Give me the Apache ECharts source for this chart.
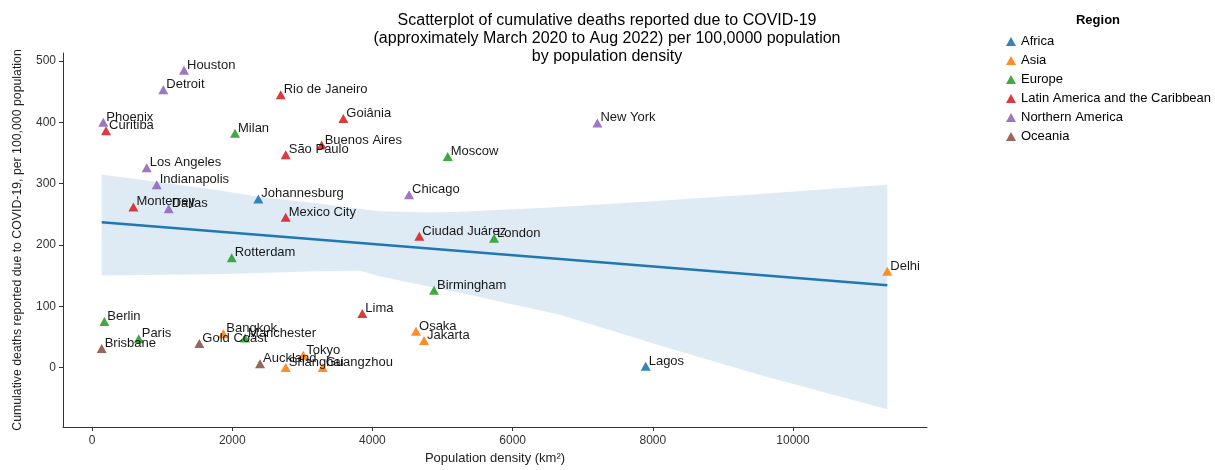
<!DOCTYPE html>
<html>
<head>
<meta charset="utf-8">
<script src="https://cdn.jsdelivr.net/npm/echarts@6/dist/echarts.min.js"></script>
<style>
html,body{margin:0;padding:0;background:#fff;}
#chart{width:1215px;height:470px;}
</style>
</head>
<body>
<div id="chart"></div>
<script>
// ---- data ----
const regions = ['Africa', 'Asia', 'Europe', 'Latin America and the Caribbean', 'Northern America', 'Oceania'];
const regionColors = ['#1f77b4', '#ff7f0e', '#2ca02c', '#d62728', '#9467bd', '#8c564b'];

const cities = ['Houston','Detroit','Rio de Janeiro','Goiânia','Phoenix','Curitiba','Milan','Buenos Aires','São Paulo','Moscow',
  'Los Angeles','Indianapolis','Johannesburg','Chicago','Monterrey','Dallas','Mexico City','Ciudad Juárez','Rotterdam','New York',
  'London','Birmingham','Delhi','Lima','Berlin','Paris','Brisbane','Gold Coast','Bangkok','Manchester',
  'Osaka','Jakarta','Auckland','Shanghai','Tokyo','Guangzhou','Lagos'];
const density = [1312, 1017, 2692, 3585, 161, 200, 2040, 3276, 2763, 5074,
  780, 923, 2373, 4522, 590, 1094, 2763, 4669, 1993, 7209,
  5735, 4879, 11345, 3856, 176, 666, 138, 1531, 1873, 2183,
  4622, 4736, 2397, 2763, 3014, 3291, 7898];
const deaths = [485, 453, 445, 406, 400, 386, 382, 363, 347, 344,
  326, 298, 275, 282, 262, 259, 245, 214, 179, 399,
  211, 126, 157, 88, 75, 47, 31, 39, 55, 48,
  59, 44, 6, 0, 20, 0, 2];
const cityRegion = ['Northern America','Northern America','Latin America and the Caribbean','Latin America and the Caribbean','Northern America','Latin America and the Caribbean','Europe','Latin America and the Caribbean','Latin America and the Caribbean','Europe',
  'Northern America','Northern America','Africa','Northern America','Latin America and the Caribbean','Northern America','Latin America and the Caribbean','Latin America and the Caribbean','Europe','Northern America',
  'Europe','Europe','Asia','Latin America and the Caribbean','Europe','Europe','Oceania','Oceania','Asia','Europe',
  'Asia','Asia','Oceania','Asia','Asia','Asia','Africa'];

// regression line and confidence band
const fitX = [138, 11345];
const fitY = [237, 134];
const bandX = [138, 1683, 2400, 3200, 3823, 4100, 4800, 5250, 6676, 8103, 9529, 11345];
const bandUpper = [315, 291, 278, 268, 259, 255, 253, 254, 262, 272, 283, 298];
const bandLower = [150, 152, 154, 157, 158, 149, 132, 122, 86, 36, -12, -68];

const xTicks = [0, 2000, 4000, 6000, 8000, 10000];
const yTicks = [0, 100, 200, 300, 400, 500];

// ---- chart ----
const FONT = "'Liberation Sans', Arial, sans-serif";
const chart = echarts.init(document.getElementById('chart'), null, {renderer: 'canvas'});

const scatterSeries = regions.map((r, ri) => ({
  name: r,
  type: 'scatter',
  symbol: 'triangle',
  symbolSize: [10, 9],
  itemStyle: {color: regionColors[ri], opacity: 0.9},
  z: 5,
  label: {
    show: true,
    formatter: p => p.data[2],
    position: [8, -7],
    fontFamily: FONT,
    fontSize: 13,
    color: '#000'
  },
  data: cities.map((c, i) => [density[i], deaths[i], c]).filter((d, i) => cityRegion[i] === r)
}));

const option = {
  animation: false,
  backgroundColor: '#fff',
  title: [{
    text: 'Scatterplot of cumulative deaths reported due to COVID-19\n(approximately March 2020 to Aug 2022) per 100,0000 population\nby population density',
    left: 607, top: 12, textAlign: 'center', padding: 0,
    textStyle: {fontFamily: FONT, fontSize: 16, fontWeight: 'normal', color: '#000', lineHeight: 18}
  }, {
    text: 'Region',
    left: 1098, top: 14, textAlign: 'center', padding: 0,
    textStyle: {fontFamily: FONT, fontSize: 13, fontWeight: 'bold', color: '#000'}
  }],
  legend: {
    data: regions.map((r, i) => ({name: r, icon: 'triangle', itemStyle: {color: regionColors[i]}})),
    orient: 'vertical',
    left: 1006, top: 34,
    padding: 0,
    itemWidth: 10, itemHeight: 9,
    itemGap: 4,
    selectedMode: false,
    textStyle: {fontFamily: FONT, fontSize: 13, color: '#000', lineHeight: 15}
  },
  grid: {left: 63, right: 288, top: 53, bottom: 40, containLabel: false},
  xAxis: {
    type: 'value', min: -414, max: 11911,
    name: 'Population density (km²)', nameLocation: 'middle', nameGap: 25,
    nameTextStyle: {fontFamily: FONT, fontSize: 13, color: '#222'},
    axisLine: {show: true, onZero: false, lineStyle: {color: '#333', width: 1}},
    axisTick: {show: true, length: 4, customValues: xTicks, lineStyle: {color: '#333'}},
    axisLabel: {customValues: xTicks, formatter: v => String(v), fontFamily: FONT, fontSize: 12, color: '#333', margin: 8},
    splitLine: {show: false}
  },
  yAxis: {
    type: 'value', min: -97, max: 513,
    name: 'Cumulative deaths reported due to COVID-19, per 100,000 population',
    nameLocation: 'middle', nameGap: 39, nameRotate: 90,
    nameTextStyle: {fontFamily: FONT, fontSize: 12.3, color: '#222'},
    axisLine: {show: true, onZero: false, lineStyle: {color: '#333', width: 1}},
    axisTick: {show: true, length: 4, customValues: yTicks, lineStyle: {color: '#333'}},
    axisLabel: {customValues: yTicks, formatter: v => String(v), fontFamily: FONT, fontSize: 12, color: '#333', margin: 7},
    splitLine: {show: false}
  },
  series: [
    {
      type: 'custom',
      name: 'band',
      z: 1,
      silent: true,
      data: bandX.map((x, i) => [x, bandUpper[i], bandLower[i]]),
      encode: {x: 0, y: [1, 2]},
      renderItem: function (params, api) {
        if (params.dataIndex !== 0) return null;
        const pts = [];
        for (let i = 0; i < bandX.length; i++) pts.push(api.coord([bandX[i], bandUpper[i]]));
        for (let i = bandX.length - 1; i >= 0; i--) pts.push(api.coord([bandX[i], bandLower[i]]));
        return {type: 'polygon', shape: {points: pts}, style: {fill: 'rgba(31,119,180,0.15)', stroke: null}};
      }
    },
    {
      type: 'line',
      name: 'fit',
      z: 2,
      symbol: 'none',
      silent: true,
      lineStyle: {color: '#1f77b4', width: 2.5},
      data: fitX.map((x, i) => [x, fitY[i]])
    },
    ...scatterSeries
  ]
};
chart.setOption(option);
</script>
</body>
</html>
